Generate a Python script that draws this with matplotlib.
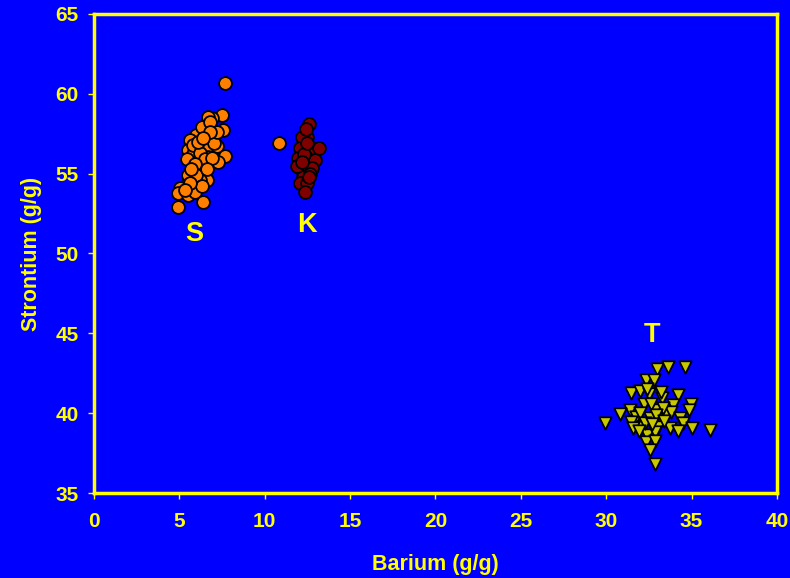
import matplotlib.pyplot as plt

# S group (orange)
s_ba = [7.69, 7.47, 6.89, 6.69, 7.57, 6.40, 6.99, 6.00, 5.62, 5.52, 6.60, 7.18, 7.67,
        7.28, 6.20, 5.81, 5.43, 6.69, 6.40, 5.52, 6.10, 6.60, 6.20, 5.43, 5.04, 4.94,
        5.52, 5.91, 6.40, 4.94, 6.30, 6.80, 5.80, 6.20, 6.50, 5.90, 6.90, 7.00, 6.00,
        6.30, 5.60, 5.30, 6.60, 7.20, 6.10, 5.70, 6.80, 6.40]
s_sr = [60.66, 58.68, 58.47, 58.57, 57.70, 57.70, 57.20, 57.40, 57.10, 56.50, 56.60,
        56.70, 56.10, 55.75, 55.50, 56.20, 55.90, 56.06, 55.20, 54.90, 55.10, 54.60,
        54.60, 54.30, 54.10, 53.77, 53.67, 53.87, 53.25, 52.93, 57.90, 58.20, 56.80,
        56.30, 55.90, 55.60, 56.00, 56.90, 54.90, 54.20, 54.40, 54.00, 55.30, 57.60,
        57.00, 55.30, 57.60, 57.20]

# K group (dark red) plus one orange outlier
k_ba = [12.61, 12.45, 12.16, 12.06, 12.75, 13.20, 12.45, 11.96, 12.94, 12.06, 12.75,
        12.25, 12.06, 12.45, 12.35, 12.65, 11.87, 12.30, 12.50, 12.20, 12.60, 12.40]
k_sr = [58.10, 57.30, 57.30, 56.60, 56.60, 56.60, 55.96, 55.96, 55.86, 55.34, 55.34,
        54.80, 54.40, 54.40, 53.87, 55.00, 55.50, 56.20, 56.90, 55.70, 54.80, 57.80]
k_out_ba = [10.83]
k_out_sr = [56.90]

# T group (yellow triangles)
t_ba = [32.98, 33.63, 34.60, 32.32, 32.80, 31.48, 31.97, 32.51, 33.24, 34.20, 34.99,
        34.85, 32.22, 32.85, 33.92, 31.38, 30.80, 29.92, 31.77, 32.55, 33.53, 33.82,
        34.31, 34.50, 31.48, 32.07, 33.04, 33.72, 34.20, 35.05, 36.10, 31.58, 32.36,
        32.85, 32.32, 32.85, 32.59, 32.85, 32.00, 32.60, 33.30, 32.30, 32.90, 33.40,
        31.90, 32.70, 33.20, 32.40]
t_sr = [42.77, 42.92, 42.92, 42.08, 42.08, 41.25, 41.40, 41.20, 40.98, 41.15, 40.56,
        40.20, 40.56, 40.20, 40.50, 40.20, 39.93, 39.37, 39.79, 39.68, 39.89, 40.06,
        39.68, 39.37, 39.47, 39.16, 39.16, 39.05, 38.89, 39.05, 38.95, 39.05, 38.64,
        38.85, 38.19, 38.27, 37.70, 36.80, 40.00, 40.60, 40.30, 39.40, 39.90, 39.50,
        38.90, 39.30, 41.30, 41.50]

labels = ['S', 'K', 'T']
label_x = [5.9, 12.5, 32.7]
label_y = [51.2, 51.8, 44.9]

yellow = '#FFFF00'
blue = '#0000FF'
font = 'Liberation Sans'

fig = plt.figure(figsize=(7.9, 5.78), dpi=100, facecolor=blue)
ax = fig.add_axes([0.119, 0.147, 0.8645, 0.829])
ax.set_facecolor(blue)

ax.scatter(s_ba, s_sr, s=85, c='#FF8000', edgecolors='black', linewidths=1.3, zorder=3)
ax.scatter(k_out_ba, k_out_sr, s=85, c='#FF8000', edgecolors='black', linewidths=1.3, zorder=3)
ax.scatter(k_ba, k_sr, s=85, c='#800000', edgecolors='black', linewidths=1.3, zorder=3)
ax.scatter(t_ba, t_sr, s=80, marker='v', c='#C8C800', edgecolors='black', linewidths=1.3, zorder=3)

for lab, lx, ly in zip(labels, label_x, label_y):
    ax.text(lx, ly, lab, color=yellow, fontsize=19.5, fontweight='bold',
            ha='center', va='center', family=font)

ax.set_xlim(0, 40)
ax.set_ylim(35, 65)
ax.set_xticks(range(0, 41, 5))
ax.set_yticks(range(35, 66, 5))

for sp in ax.spines.values():
    sp.set_color(yellow)
    sp.set_linewidth(2.5)

ax.tick_params(colors=yellow, direction='out', length=4, width=1)
ax.tick_params(axis='x', pad=10)
ax.tick_params(axis='y', pad=7)
for t in ax.get_xticklabels() + ax.get_yticklabels():
    t.set_fontsize(15)
    t.set_fontweight('bold')
    t.set_family(font)

ax.set_xlabel('Barium (g/g)', color=yellow, fontsize=15.5, fontweight='bold',
              family=font, labelpad=16)
ax.set_ylabel('Strontium (g/g)', color=yellow, fontsize=15.5, fontweight='bold',
              family=font, labelpad=10)

fig.savefig('out.png', dpi=100, facecolor=blue)
